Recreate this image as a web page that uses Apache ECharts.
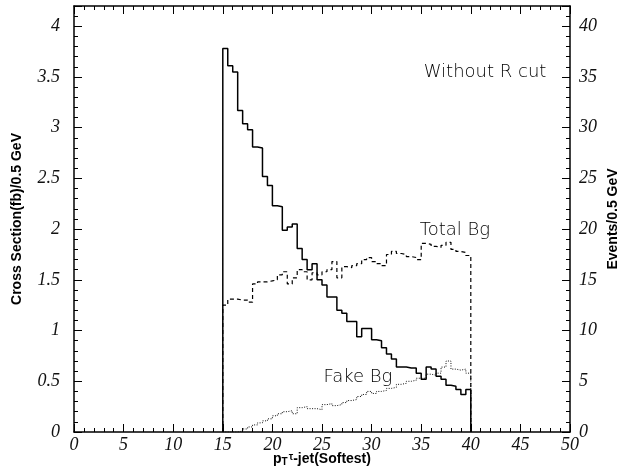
<!DOCTYPE html>
<html>
<head>
<meta charset="utf-8">
<script src="https://cdn.jsdelivr.net/npm/echarts@6/dist/echarts.min.js"></script>
<style>
html,body{margin:0;padding:0;background:#fff}
#main{width:633px;height:468px}
</style>
</head>
<body>
<div id="main"></div>
<script>
// histogram bins: 0.5 GeV wide, from 15 to 40 GeV
var binStart = 15;
var binWidth = 0.5;

// signal, without R cut (fb / 0.5 GeV)
var signal = [3.78, 3.61, 3.55, 3.17, 3.04, 2.98, 2.81, 2.80, 2.52, 2.43,
              2.23, 2.22, 1.99, 2.02, 2.05, 1.81, 1.70, 1.60, 1.66, 1.50,
              1.45, 1.33, 1.33, 1.20, 1.17, 1.09, 1.09, 0.94, 1.02, 1.02,
              0.91, 0.90, 0.83, 0.77, 0.72, 0.64, 0.64, 0.63, 0.63, 0.58,
              0.52, 0.64, 0.62, 0.55, 0.52, 0.46, 0.45, 0.42, 0.37, 0.42];

// total background
var totalBg = [1.25, 1.31, 1.31, 1.30, 1.30, 1.28, 1.46, 1.48, 1.48, 1.49,
               1.50, 1.55, 1.58, 1.46, 1.52, 1.60, 1.58, 1.50, 1.57, 1.55,
               1.58, 1.60, 1.68, 1.52, 1.63, 1.62, 1.64, 1.66, 1.70, 1.72,
               1.68, 1.66, 1.64, 1.75, 1.78, 1.76, 1.75, 1.73, 1.72, 1.70,
               1.86, 1.85, 1.83, 1.82, 1.84, 1.87, 1.80, 1.78, 1.77, 1.74];

// fake background
var fakeBg = [0.00, 0.00, 0.00, 0.01, 0.03, 0.05, 0.07, 0.09, 0.11, 0.13,
              0.16, 0.18, 0.20, 0.21, 0.18, 0.24, 0.25, 0.23, 0.23, 0.22,
              0.27, 0.28, 0.26, 0.27, 0.29, 0.31, 0.32, 0.35, 0.37, 0.40,
              0.38, 0.40, 0.41, 0.43, 0.44, 0.47, 0.48, 0.50, 0.51, 0.53,
              0.53, 0.57, 0.56, 0.58, 0.64, 0.70, 0.62, 0.61, 0.62, 0.58];

var labelFont = {fontFamily: 'Liberation Serif', fontStyle: 'italic', fontSize: 18, color: '#111'};
var noteFont = {fontFamily: 'DejaVu Sans', fontWeight: 200, fontSize: 18, color: '#000'};

// step points for a histogram (with the drop to 0 at both ends)
function histPoints(vals) {
    var pts = [[binStart, 0]];
    for (var i = 0; i < vals.length; i++) {
        pts.push([binStart + i * binWidth, vals[i]]);
    }
    var end = binStart + vals.length * binWidth;
    pts.push([end, vals[vals.length - 1]]);
    pts.push([end, 0]);
    return pts;
}

// text note anchored at a data point (left edge, vertical centre)
function note(text, x, y) {
    return {
        name: text,
        coord: [x, y],
        symbol: 'rect',
        symbolSize: 1,
        itemStyle: {color: 'rgba(0,0,0,0)'},
        label: Object.assign({show: true, formatter: '{b}', position: 'right', distance: 0}, noteFont)
    };
}

var myChart = echarts.init(document.getElementById('main'));

function axisBase() {
    return {
        type: 'value',
        nameMoveOverlap: false,
        axisLine: {show: true, onZero: false, lineStyle: {color: '#000', width: 1.5}},
        axisTick: {show: true, inside: true, length: 8, lineStyle: {color: '#000', width: 1}},
        minorTick: {show: true, splitNumber: 5, length: 4, lineStyle: {color: '#000', width: 1}},
        splitLine: {show: false}
    };
}

var boldName = {fontFamily: 'Liberation Sans', fontWeight: 'bold', fontSize: 14, color: '#000'};

option = {
    backgroundColor: '#fff',
    animation: false,
    grid: {left: 74, right: 63, top: 6, bottom: 36, containLabel: false, outerBoundsMode: 'none'},
    xAxis: [Object.assign(axisBase(), {
        position: 'bottom',
        min: 0, max: 50, interval: 5,
        axisLabel: Object.assign({margin: 4}, labelFont),
        name: '{b|p}{sub|T}{sup|τ}{b|-jet(Softest)}',
        nameLocation: 'middle',
        nameGap: 27,
        nameTextStyle: {
            verticalAlign: 'middle',
            rich: {
                b: {fontFamily: 'Liberation Sans', fontWeight: 'bold', fontSize: 14, color: '#000', lineHeight: 16},
                sub: {fontFamily: 'Liberation Sans', fontWeight: 'bold', fontSize: 10, color: '#000', lineHeight: 16, padding: [7, 0, 0, 0]},
                sup: {fontFamily: 'Liberation Sans', fontWeight: 'bold', fontSize: 10, color: '#000', lineHeight: 16, padding: [0, 0, 3, 1]}
            }
        }
    }), Object.assign(axisBase(), {
        position: 'top',
        min: 0, max: 50, interval: 5,
        axisLabel: {show: false}
    })],
    yAxis: [Object.assign(axisBase(), {
        position: 'left',
        min: 0, max: 4.2, interval: 0.5,
        axisLabel: Object.assign({margin: 14, showMaxLabel: false}, labelFont),
        name: 'Cross Section(fb)/0.5 GeV',
        nameLocation: 'middle',
        nameGap: 50,
        nameTextStyle: boldName
    }), Object.assign(axisBase(), {
        position: 'right',
        min: 0, max: 42, interval: 5,
        axisLabel: Object.assign({margin: 9, showMaxLabel: false}, labelFont),
        name: 'Events/0.5 GeV',
        nameLocation: 'middle',
        nameRotate: 90,
        nameGap: 36,
        nameTextStyle: boldName
    })],
    series: [{
        name: 'Fake Bg',
        type: 'line',
        step: 'end',
        symbol: 'none',
        data: histPoints(fakeBg),
        lineStyle: {color: '#111', width: 1, type: [1, 1.5]},
        markPoint: {data: [note('Fake Bg', 25.1, 0.54)]}
    }, {
        name: 'Total Bg',
        type: 'line',
        step: 'end',
        symbol: 'none',
        data: histPoints(totalBg),
        lineStyle: {color: '#000', width: 1.2, type: [4, 3]},
        markPoint: {data: [note('Total Bg', 34.8, 1.99)]}
    }, {
        name: 'Without R cut',
        type: 'line',
        step: 'end',
        symbol: 'none',
        data: histPoints(signal),
        lineStyle: {color: '#000', width: 1.5},
        markPoint: {data: [note('Without R cut', 35.2, 3.55)]}
    }]
};
myChart.setOption(option);
</script>
</body>
</html>
